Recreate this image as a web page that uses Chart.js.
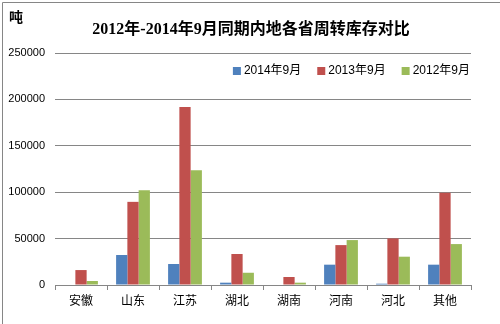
<!DOCTYPE html>
<html>
<head>
<meta charset="utf-8">
<script src="https://cdn.jsdelivr.net/npm/chart.js@4/dist/chart.umd.min.js"></script>
<style>
    html, body { margin: 0; padding: 0; background: #fff; }
    #wrap { width: 500px; height: 324px; position: relative; }
</style>
</head>
<body>
<div id="wrap"><canvas id="chart" width="500" height="324"></canvas></div>
<script>
const provinces = ['安徽', '山东', '江苏', '湖北', '湖南', '河南', '河北', '其他'];
const sep2014 = [0, 32300, 22600, 2500, 0, 21900, 1400, 21900];
const sep2013 = [16100, 89600, 191900, 33400, 8600, 43000, 50200, 99400];
const sep2012 = [4300, 102200, 123700, 13200, 2500, 48400, 30500, 44100];
const seriesNames = ['2014年9月', '2013年9月', '2012年9月'];
const yTicks = [0, 50000, 100000, 150000, 200000, 250000];

const titleText = '2012年-2014年9月同期内地各省周转库存对比';
const unitText = '吨';
const gray = '#868686';

// frame, title, unit and the legend inside the plot
const decorations = {
    id: 'decorations',
    afterDraw(chart) {
        const ctx = chart.ctx;
        ctx.save();
        ctx.strokeStyle = gray;
        ctx.lineWidth = 1;
        ctx.beginPath();
        ctx.moveTo(2.5, 324);
        ctx.lineTo(2.5, 2.5);
        ctx.lineTo(500, 2.5);
        ctx.stroke();

        ctx.fillStyle = '#000';
        ctx.textBaseline = 'middle';
        ctx.font = 'bold 14px "Noto Sans CJK SC"';
        ctx.textAlign = 'left';
        ctx.fillText(unitText, 9, 17);

        ctx.font = 'bold 16px "Liberation Serif", "Noto Sans CJK SC"';
        ctx.textAlign = 'center';
        ctx.fillText(titleText, 251, 30);

        // legend, laid out right to left
        ctx.font = '12px "Liberation Sans", "Noto Sans CJK SC"';
        ctx.textAlign = 'left';
        let x = 470;
        const y = 71;
        const items = chart.data.datasets.map(d => ({ label: d.label, color: d.backgroundColor }));
        for (let i = items.length - 1; i >= 0; i--) {
            const w = ctx.measureText(items[i].label).width;
            const textX = x - w;
            const boxX = textX - 11;
            ctx.fillStyle = items[i].color;
            ctx.fillRect(boxX, y - 4, 8, 8);
            ctx.fillStyle = '#000';
            ctx.fillText(items[i].label, textX, y);
            x = boxX - 16;
        }
        ctx.restore();
    }
};

new Chart(document.getElementById('chart'), {
    type: 'bar',
    data: {
        labels: provinces,
        datasets: [
            { label: seriesNames[0], data: sep2014, backgroundColor: '#4F81BD' },
            { label: seriesNames[1], data: sep2013, backgroundColor: '#C0504D' },
            { label: seriesNames[2], data: sep2012, backgroundColor: '#9BBB59' }
        ]
    },
    options: {
        responsive: false,
        animation: false,
        layout: { padding: { left: 0, right: 29, top: 53, bottom: 0 } },
        datasets: { bar: { categoryPercentage: 0.65, barPercentage: 1 } },
        plugins: {
            legend: { display: false },
            title: { display: false },
            tooltip: { enabled: false }
        },
        scales: {
            x: {
                afterFit(scale) { scale.height = 39; },
                grid: { drawOnChartArea: false, drawTicks: true, tickLength: 5, color: gray },
                border: { color: gray },
                ticks: {
                    color: '#000',
                    padding: 3,
                    font: { family: '"Noto Sans CJK SC"', size: 12 }
                }
            },
            y: {
                min: 0,
                max: 250000,
                afterFit(scale) { scale.width = 55; },
                afterBuildTicks(scale) { scale.ticks = yTicks.map(v => ({ value: v })); },
                grid: { color: gray, drawTicks: false },
                border: { display: false },
                ticks: {
                    color: '#000',
                    padding: 10,
                    font: { family: '"Liberation Sans"', size: 11 },
                    callback: v => String(v)
                }
            }
        }
    },
    plugins: [decorations]
});
</script>
</body>
</html>
